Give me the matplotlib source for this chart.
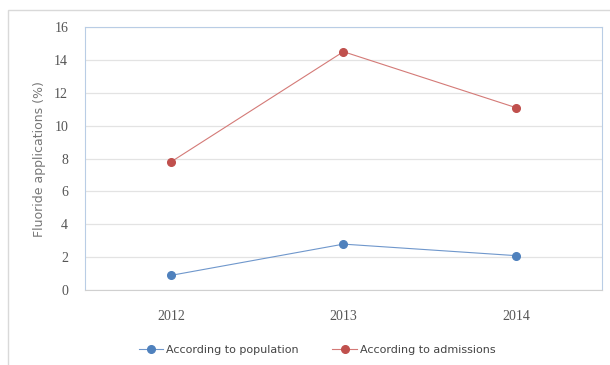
import matplotlib.pyplot as plt
from matplotlib.patches import Rectangle

years = ['2012', '2013', '2014']
population = [0.9, 2.8, 2.1]
admissions = [7.8, 14.5, 11.1]

fig = plt.figure(figsize=(6.1, 3.65), dpi=100)
fig.patch.set_facecolor('white')

# outer chart frame (cut off at right and bottom)
fig.patches.append(Rectangle((0.013, -0.05), 1.1, 1.023, transform=fig.transFigure,
                             fill=False, edgecolor='#d9d9d9', linewidth=1.0))

ax = fig.add_axes([0.139, 0.205, 0.848, 0.721])
x = range(len(years))
ax.plot(x, population, color='#6f97cc', linewidth=0.8, marker='o', markersize=5.5,
        markerfacecolor='#4f81bd', markeredgecolor='#4f81bd', label='According to population')
ax.plot(x, admissions, color='#d47a77', linewidth=0.8, marker='o', markersize=5.5,
        markerfacecolor='#c0504d', markeredgecolor='#c0504d', label='According to admissions')

ax.set_xlim(-0.5, 2.5)
ax.set_ylim(0, 16)
ax.set_yticks(range(0, 17, 2))
ax.set_xticks(list(x))
ax.set_xticklabels(years)
ax.grid(axis='y', color='#e3e3e3', linewidth=0.9)
ax.set_axisbelow(True)
ax.tick_params(length=0, labelsize=10, labelcolor='#555555')
ax.tick_params(axis='y', pad=12)
ax.tick_params(axis='x', pad=14)
for lab in ax.get_xticklabels() + ax.get_yticklabels():
    lab.set_family('Liberation Serif')
for side in ['top', 'right', 'left']:
    ax.spines[side].set_color('#b9cde5')
ax.spines['bottom'].set_color('#d0d0d0')
ax.set_ylabel('Fluoride applications (%)', fontsize=9, color='#777777', labelpad=6)

fig.legend(loc='lower center', bbox_to_anchor=(0.52, 0.0), ncol=2, frameon=False,
           fontsize=8, labelcolor='#444444', handlelength=2.2, columnspacing=3.0,
           handletextpad=0.3)

fig.savefig('out.png', dpi=100)
